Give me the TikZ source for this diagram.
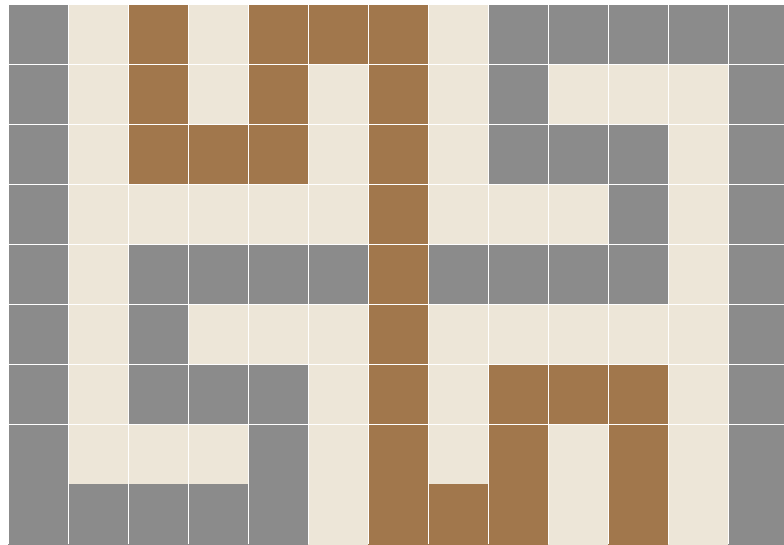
\documentclass[tikz,border=0pt]{standalone}
\definecolor{cG}{RGB}{139,139,139}
\definecolor{cB}{RGB}{237,230,216}
\definecolor{cR}{RGB}{161,119,76}
\tikzset{cellbox/.style={draw=white, line width=1pt}}
\begin{document}
\begin{tikzpicture}[x=1pt,y=-1pt]
\useasboundingbox (0,0) rectangle (784,544);
\clip (0,0) rectangle (784,544);
\fill[white] (0,0) rectangle (784,544);
% rows 0-6 with white borders
\foreach \row [count=\r from 0] in {
  {G,B,R,B,R,R,R,B,G,G,G,G,G},
  {G,B,R,B,R,B,R,B,G,B,B,B,G},
  {G,B,R,R,R,B,R,B,G,G,G,B,G},
  {G,B,B,B,B,B,R,B,B,B,G,B,G},
  {G,B,G,G,G,G,R,G,G,G,G,B,G},
  {G,B,G,B,B,B,R,B,B,B,B,B,G},
  {G,B,G,G,G,B,R,B,R,R,R,B,G}} {
  \foreach \c [count=\k from 0] in \row {
    \fill[c\c, cellbox] ({8+60*\k},{4+60*\r}) rectangle ++(60,60);
  }
}
% rows 7-8 without separating line
\foreach \row [count=\r from 7] in {
  {G,B,B,B,G,B,R,B,R,B,R,B,G},
  {G,G,G,G,G,B,R,R,R,B,R,B,G}} {
  \foreach \c [count=\k from 0] in \row {
    \fill[c\c] ({8+60*\k},{4+60*\r}) rectangle ++(60,60.5);
  }
}
\draw[white, line width=1pt] (8,424) -- (784,424);
\foreach \k in {0,...,12} {
  \draw[white, line width=1pt] ({8+60*\k},424) -- ({8+60*\k},544);
}
\end{tikzpicture}
\end{document}
